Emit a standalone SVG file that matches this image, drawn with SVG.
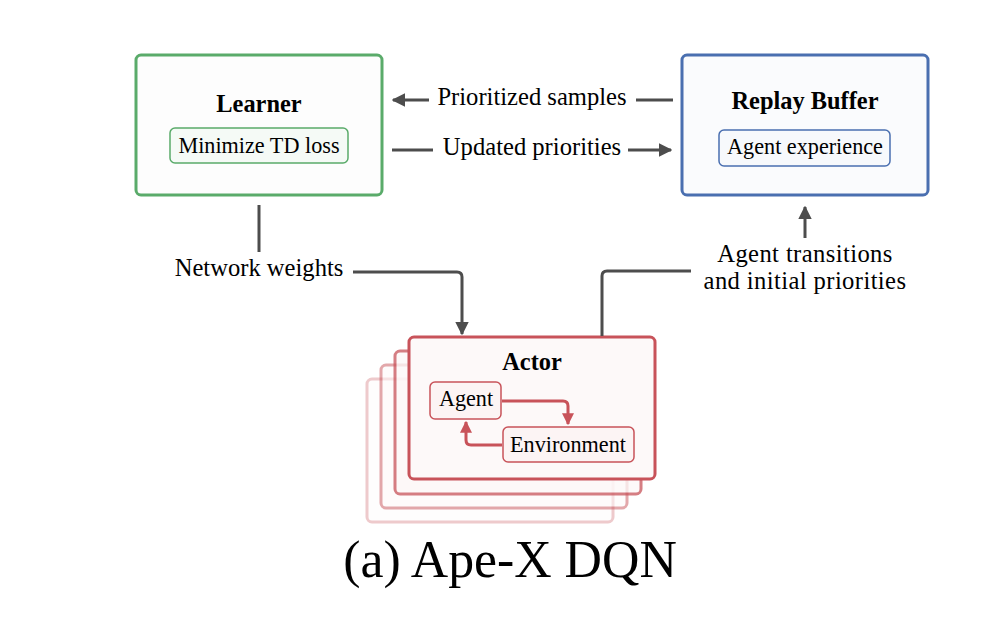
<svg xmlns="http://www.w3.org/2000/svg" width="986" height="618" viewBox="0 0 986 618">
<style>
.t{font-family:"Liberation Serif","Times New Roman",serif;fill:#000}
.title{font-size:24.4px;font-weight:bold;text-anchor:middle}
.sub{font-size:22.2px;text-anchor:middle}
.lbl{font-size:24.6px;text-anchor:middle}
.sp{letter-spacing:0.4px}
.conn{fill:none;stroke:#4d4d4d;stroke-width:3;stroke-linejoin:round}
.g{stroke:#5aab6a}
.b{stroke:#4a6fb0}
.r{stroke:#c8535a}
</style>
<defs>
<marker id="ah" viewBox="0 0 10 10" refX="9" refY="5" markerWidth="4.5" markerHeight="4.5" orient="auto" markerUnits="strokeWidth">
<path d="M0,0 L10,5 L0,10 z" fill="#4d4d4d"/>
</marker>
<marker id="ahr" viewBox="0 0 10 10" refX="9" refY="5" markerWidth="4" markerHeight="4" orient="auto" markerUnits="strokeWidth">
<path d="M0,0 L10,5 L0,10 z" fill="#c8535a"/>
</marker>
</defs>
<rect width="986" height="618" fill="#fff"/>

<g id="learner">
<rect x="136" y="55" width="246" height="140" rx="5" fill="#fdfdfd" class="g" stroke-width="3"/>
<text x="259" y="112" class="t title">Learner</text>
<rect x="170" y="128" width="178" height="35" rx="5" fill="#f5faf6" class="g" stroke-width="1.5"/>
<text x="259" y="153" class="t sub">Minimize TD loss</text>
</g>

<g id="replay">
<rect x="682" y="55" width="246" height="140" rx="5" fill="#fafbfd" class="b" stroke-width="3"/>
<text x="805" y="109" class="t title">Replay Buffer</text>
<rect x="719" y="130" width="171" height="36" rx="5" fill="#f7f9fc" class="b" stroke-width="1.5"/>
<text x="805" y="154" class="t sub">Agent experience</text>
</g>

<g id="actor">
<rect x="367" y="379" width="246" height="143" rx="5" fill="#fefbfb" class="r" stroke-width="3" opacity="0.3"/>
<rect x="381" y="365" width="246" height="143" rx="5" fill="#fefbfb" class="r" stroke-width="3" opacity="0.5"/>
<rect x="395" y="351" width="246" height="143" rx="5" fill="#fdf8f8" class="r" stroke-width="3" opacity="0.75"/>
<rect x="409" y="337" width="246" height="142" rx="5" fill="#fdf9f9" class="r" stroke-width="3"/>
<text x="532" y="370" class="t title">Actor</text>
<g id="agent">
<rect x="430" y="382" width="71" height="37" rx="5" fill="#fcf4f4" class="r" stroke-width="1.5"/>
<text x="466" y="406" class="t sub">Agent</text>
</g>
<g id="environment">
<rect x="503" y="427" width="131" height="35" rx="5" fill="#fcf4f4" class="r" stroke-width="1.5"/>
<text x="568" y="452" class="t sub">Environment</text>
</g>
<path d="M502,401 H563 Q568,401 568,406 V424" fill="none" class="r" stroke-width="3" marker-end="url(#ahr)"/>
<path d="M502,445 H471 Q466,445 466,440 V422" fill="none" class="r" stroke-width="3" marker-end="url(#ahr)"/>
</g>

<g id="connectors">
<path d="M429,100 H393" class="conn" marker-end="url(#ah)"/>
<path d="M636,100 H673" class="conn"/>
<path d="M392,150 H433" class="conn"/>
<path d="M628,150 H671" class="conn" marker-end="url(#ah)"/>
<path d="M259,205 V252" class="conn"/>
<path d="M353,272 H457 Q462,272 462,277 V334" class="conn" marker-end="url(#ah)"/>
<path d="M602,336 V276 Q602,271 607,271 H691" class="conn"/>
<path d="M805,238 V207" class="conn" marker-end="url(#ah)"/>
</g>

<g id="labels">
<text x="532" y="105" class="t lbl">Prioritized samples</text>
<text x="532" y="155" class="t lbl">Updated priorities</text>
<text x="259" y="276" class="t lbl">Network weights</text>
<text x="805" y="262" class="t lbl sp">Agent transitions</text>
<text x="805" y="289" class="t lbl sp">and initial priorities</text>
<text x="510" y="577" font-size="51.8" text-anchor="middle" class="t">(a) Ape-X DQN</text>
</g>
</svg>
